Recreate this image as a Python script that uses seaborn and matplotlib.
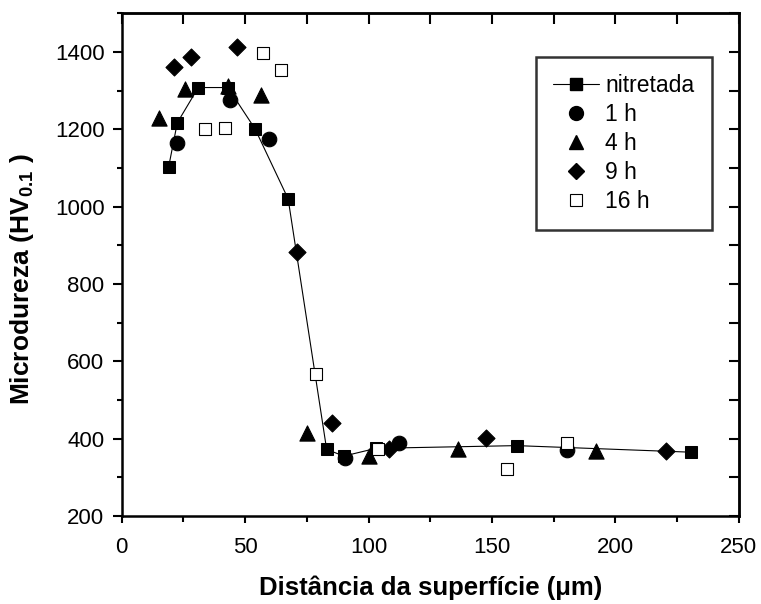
import matplotlib
matplotlib.use("Agg")
import matplotlib.pyplot as plt
from matplotlib.lines import Line2D
from matplotlib.ticker import MultipleLocator
import seaborn as sns

# Microdureza x distância
nit_x = [19, 22.5, 31, 43, 54, 67.4, 83, 90, 103, 160, 230.5]
nit_y = [1103, 1217, 1308, 1308, 1201, 1020, 372, 355, 375, 382, 365]

h1_x = [22.4, 43.8, 59.6, 90.4, 112.4, 180.2]
h1_y = [1164, 1276, 1174, 351, 390, 371]

h4_x = [15.0, 25.5, 43.1, 56.3, 75.1, 100.2, 136.3, 192.1]
h4_y = [1228, 1303, 1312, 1289, 415, 355, 373, 367]

h9_x = [21.1, 28.2, 46.5, 70.9, 85.2, 108.2, 147.5, 220.3]
h9_y = [1362, 1388, 1414, 883, 441, 373, 401, 367]

h16_x = [33.9, 41.7, 57.1, 64.6, 78.7, 103.9, 155.9, 180.4]
h16_y = [1202, 1204, 1398, 1353, 567, 372, 321, 390]

labels = ["nitretada", "1 h", "4 h", "9 h", "16 h"]

sns.set_theme(style="ticks")
plt.rcParams["font.family"] = ["Liberation Sans", "DejaVu Sans"]
plt.rcParams["mathtext.fontset"] = "custom"
plt.rcParams["mathtext.rm"] = "Liberation Sans"
plt.rcParams["mathtext.bf"] = "Liberation Sans:bold"
plt.rcParams["text.color"] = "black"
plt.rcParams["axes.labelcolor"] = "black"
plt.rcParams["xtick.color"] = "black"
plt.rcParams["ytick.color"] = "black"

fig = plt.figure(figsize=(7.61, 6.04), dpi=100)
ax = fig.add_axes([0.160, 0.1457, 0.811, 0.8323])

sns.lineplot(x=nit_x, y=nit_y, sort=False, color="black", linewidth=0.8,
             marker="s", markersize=9, markeredgecolor="black", ax=ax, zorder=2)
kw = dict(color="black", edgecolor="black", linewidth=0.8, ax=ax, zorder=3)
sns.scatterplot(x=h1_x, y=h1_y, marker="o", s=110, **kw)
sns.scatterplot(x=h4_x, y=h4_y, marker="^", s=120, **kw)
sns.scatterplot(x=h9_x, y=h9_y, marker="D", s=75, **kw)
sns.scatterplot(x=h16_x, y=h16_y, marker="s", s=85, color="white",
                edgecolor="black", linewidth=0.8, ax=ax, zorder=4)

ax.set_xlim(0, 250)
ax.set_ylim(200, 1500)
ax.xaxis.set_major_locator(MultipleLocator(50))
ax.xaxis.set_minor_locator(MultipleLocator(25))
ax.set_yticks([200, 400, 600, 800, 1000, 1200, 1400])
ax.yaxis.set_minor_locator(MultipleLocator(100))

for s in ax.spines.values():
    s.set_visible(True)
    s.set_linewidth(1.8)
    s.set_color("black")

ax.tick_params(axis="x", which="major", direction="out", length=5, width=1.5,
               labelsize=16, pad=10)
ax.tick_params(axis="x", which="minor", direction="out", length=4, width=1.5)
ax.tick_params(axis="y", which="major", direction="out", length=6.5, width=1.5,
               labelsize=16, pad=6)
ax.tick_params(axis="y", which="minor", direction="out", length=3.5, width=1.5)

# eixos de cima e da direita: marcas para dentro
ax2 = ax.secondary_xaxis("top")
ax2.xaxis.set_major_locator(MultipleLocator(50))
ax2.xaxis.set_minor_locator(MultipleLocator(25))
ax2.tick_params(which="both", direction="in", length=8, width=1.5, labeltop=False)
ax2.spines["top"].set_linewidth(1.8)
ay2 = ax.secondary_yaxis("right")
ay2.yaxis.set_major_locator(MultipleLocator(200))
ay2.yaxis.set_minor_locator(MultipleLocator(100))
ay2.tick_params(which="both", direction="in", length=7.5, width=1.5, labelright=False)
ay2.spines["right"].set_linewidth(1.8)

ax.set_xlabel("Distância da superfície (μm)", fontsize=18.5, fontweight="bold", labelpad=13)
ax.set_ylabel(r"Microdureza (HV$_{\mathbf{0.1}}$ )", fontsize=19, fontweight="bold")
ax.yaxis.set_label_coords(-0.139, 0.471)

handles = [
    Line2D([], [], color="black", lw=0.8, marker="s", markersize=9),
    Line2D([], [], color="black", lw=0, marker="o", markersize=10),
    Line2D([], [], color="black", lw=0, marker="^", markersize=10),
    Line2D([], [], color="black", lw=0, marker="D", markersize=8),
    Line2D([], [], color="black", lw=0, marker="s", markersize=9,
           markerfacecolor="white", markeredgewidth=0.8),
]
leg = ax.legend(handles, labels, loc="upper right", bbox_to_anchor=(0.956, 0.9125),
                fontsize=16.5, frameon=True, fancybox=False, handlelength=2.0,
                labelspacing=0.26, borderpad=0.75, handletextpad=0.3,
                borderaxespad=0)
leg.get_frame().set_edgecolor("black")
leg.get_frame().set_linewidth(1.8)

fig.savefig("out.png", dpi=100)
